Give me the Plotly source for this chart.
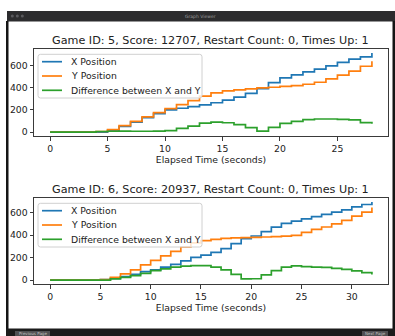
import plotly.graph_objects as go

W, H = 395, 336

# ---------------- data ----------------
series_names = ["X Position", "Y Position", "Difference between X and Y"]
series_colors = ["#1f77b4", "#ff7f0e", "#2ca02c"]

titles = [
    "Game ID: 5, Score: 12707, Restart Count: 0, Times Up: 1",
    "Game ID: 6, Score: 20937, Restart Count: 0, Times Up: 1",
]
x_label = "Elapsed Time (seconds)"

t_game5 = list(range(29))
x_game5 = [0, 0, 0, 0, 0, 15, 50, 90, 130, 167, 200, 215, 230, 245, 265, 288, 315, 350, 392,
           447, 490, 517, 544, 568, 598, 630, 660, 680, 715]
y_game5 = [0, 0, 0, 0, 5, 22, 58, 97, 137, 175, 212, 248, 284, 325, 355, 372, 382, 390, 400,
           405, 412, 420, 432, 450, 480, 515, 550, 595, 640]
d_game5 = [0, 0, 0, 0, 5, 7, 8, 7, 7, 8, 12, 33, 54, 80, 90, 84, 67, 40, 8,
           42, 78, 97, 112, 118, 118, 115, 110, 85, 75]

t_game6 = list(range(33))
x_game6 = [0, 0, 0, 0, 0, 5, 15, 30, 50, 75, 90, 115, 140, 170, 202, 222, 247, 280, 325,
           368, 392, 430, 470, 505, 525, 545, 565, 585, 605, 625, 650, 672, 695]
y_game6 = [0, 0, 0, 0, 0, 5, 25, 55, 90, 135, 175, 215, 255, 295, 330, 350, 362, 370, 375,
           378, 380, 383, 386, 390, 398, 425, 450, 472, 500, 530, 568, 605, 645]
d_game6 = [0, 0, 0, 0, 0, 0, 10, 25, 40, 60, 85, 100, 115, 125, 128, 128, 115, 90, 50,
           10, 12, 47, 84, 115, 127, 120, 115, 113, 105, 95, 82, 67, 50]

x_ticks = [[0, 5, 10, 15, 20, 25], [0, 5, 10, 15, 20, 25, 30]]
y_ticks = [0, 200, 400, 600]

games = [
    (t_game5, [x_game5, y_game5, d_game5]),
    (t_game6, [x_game6, y_game6, d_game6]),
]

# ---------------- helpers (pixel -> paper) ----------------
def px(x):
    return x / W

def py(y):
    return 1 - y / H

FONT = "DejaVu Sans"
TXT = "#222222"
SPINE = "#3a3a3a"

fig = go.Figure()
layout = dict(
    width=W, height=H,
    margin=dict(l=0, r=0, t=0, b=0, autoexpand=False),
    paper_bgcolor="white", plot_bgcolor="white",
    showlegend=False,
    font=dict(family=FONT, size=9.3, color=TXT),
)

# axes pixel boxes: (left, top, right, bottom)
boxes = [(34, 49, 388, 136), (34, 198, 388, 284)]

shapes = []
annotations = []

for i, ((t, vals), box) in enumerate(zip(games, boxes)):
    sfx = "" if i == 0 else str(i + 1)
    for name, color, v in zip(series_names, series_colors, vals):
        fig.add_trace(go.Scatter(
            x=t, y=v, name=name, mode="lines", line_shape="hv",
            line=dict(color=color, width=1.7),
            xaxis="x" + sfx, yaxis="y" + sfx, showlegend=False,
        ))
    tmin, tmax = min(t), max(t)
    vmin = min(min(v) for v in vals)
    vmax = max(max(v) for v in vals)
    mx = 0.05 * (tmax - tmin)
    my = 0.05 * (vmax - vmin)
    l, tp, r, b = box
    common = dict(showline=True, mirror=True, linecolor=SPINE, linewidth=1,
                  ticks="outside", ticklen=3.5, tickwidth=1, tickcolor=SPINE,
                  showgrid=False, zeroline=False, automargin=False,
                  tickfont=dict(family=FONT, size=9.3, color=TXT))
    layout["xaxis" + sfx] = dict(
        domain=[px(l), px(r)], range=[tmin - mx, tmax + mx],
        anchor="y" + sfx, tickvals=x_ticks[i],
        title=dict(text=x_label, standoff=3, font=dict(family=FONT, size=9.3, color=TXT)),
        **common)
    layout["yaxis" + sfx] = dict(
        domain=[py(b), py(tp)], range=[vmin - my, vmax + my],
        anchor="x" + sfx, tickvals=y_ticks, **common)

    # subplot title
    annotations.append(dict(
        text=titles[i], xref="paper", yref="paper", x=px((l + r) / 2), y=py(tp - 9),
        xanchor="center", yanchor="middle", showarrow=False,
        font=dict(family=FONT, size=11.2, color=TXT)))

    # legend (matplotlib style, upper left)
    lg_l, lg_t = l + 4, tp + 5.3
    lg_r, lg_b = l + 168, tp + 49
    rad = 2.5
    path = (f"M {px(lg_l + rad)},{py(lg_t)} L {px(lg_r - rad)},{py(lg_t)} "
            f"Q {px(lg_r)},{py(lg_t)} {px(lg_r)},{py(lg_t + rad)} "
            f"L {px(lg_r)},{py(lg_b - rad)} Q {px(lg_r)},{py(lg_b)} {px(lg_r - rad)},{py(lg_b)} "
            f"L {px(lg_l + rad)},{py(lg_b)} Q {px(lg_l)},{py(lg_b)} {px(lg_l)},{py(lg_b - rad)} "
            f"L {px(lg_l)},{py(lg_t + rad)} Q {px(lg_l)},{py(lg_t)} {px(lg_l + rad)},{py(lg_t)} Z")
    shapes.append(dict(type="path", path=path, xref="paper", yref="paper",
                       fillcolor="rgba(255,255,255,0.8)",
                       line=dict(color="#d0d0d0", width=1), layer="above"))
    for k, (name, color) in enumerate(zip(series_names, series_colors)):
        ry = tp + 12.7 + k * 14.3
        shapes.append(dict(type="line", xref="paper", yref="paper",
                           x0=px(l + 8), x1=px(l + 28), y0=py(ry), y1=py(ry),
                           line=dict(color=color, width=1.7), layer="above"))
        annotations.append(dict(
            text=name, xref="paper", yref="paper", x=px(l + 35), y=py(ry),
            xanchor="left", yanchor="middle", showarrow=False,
            font=dict(family=FONT, size=9.3, color=TXT)))

# ---------------- window frame ----------------
DARK = "#2c2c2e"
def rect(x0, y0, x1, y1, fill):
    shapes.append(dict(type="rect", xref="paper", yref="paper",
                       x0=px(x0), x1=px(x1), y0=py(y1), y1=py(y0),
                       fillcolor=fill, line=dict(width=0), layer="above"))

rect(7, 11, 395, 21.5, DARK)            # title bar
rect(6, 21, 8.5, 329, "#151515")        # left border
rect(392.5, 21, 395, 329, "#151515")    # right border
rect(6, 328.5, 395, 336, "#1c1c1c")     # bottom bar
rect(15, 331, 50, 336, "#505052")       # previous button
rect(362, 331, 388, 336, "#505052")     # next button
for cx in (12.3, 17.3, 22.3):
    shapes.append(dict(type="circle", xref="paper", yref="paper",
                       x0=px(cx - 1.5), x1=px(cx + 1.5), y0=py(17.5), y1=py(14.5),
                       fillcolor="#5a5a5e", line=dict(width=0), layer="above"))
annotations.append(dict(text="Graph Viewer", xref="paper", yref="paper",
                        x=px(200), y=py(16.3), xanchor="center", yanchor="middle",
                        showarrow=False, font=dict(family=FONT, size=4.5, color="#9a9a9a")))
annotations.append(dict(text="Previous Page", xref="paper", yref="paper",
                        x=px(32.5), y=py(333.3), xanchor="center", yanchor="middle",
                        showarrow=False, font=dict(family=FONT, size=4, color="#c0c0c0")))
annotations.append(dict(text="Next Page", xref="paper", yref="paper",
                        x=px(375), y=py(333.3), xanchor="center", yanchor="middle",
                        showarrow=False, font=dict(family=FONT, size=4, color="#c0c0c0")))

layout["shapes"] = shapes
layout["annotations"] = annotations
fig.update_layout(**layout)
fig.write_html(
    "out.html",
    config={"displayModeBar": False},
    post_script="document.body.style.margin='0';document.body.style.overflow='hidden';",
)
